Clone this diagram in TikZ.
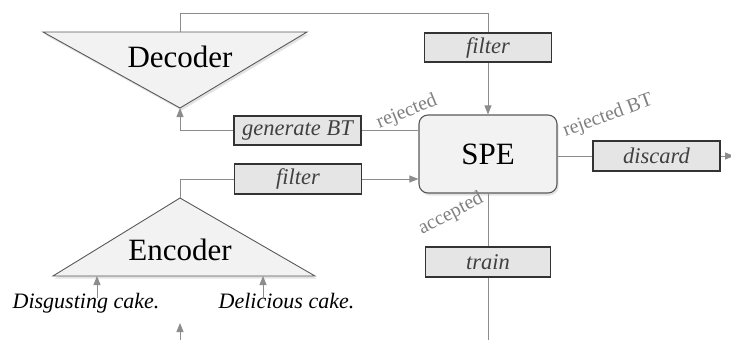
\documentclass[tikz,border=0pt]{standalone}
\usepackage{fontspec}
\setmainfont{Liberation Serif}
\usetikzlibrary{arrows.meta,shadows}
\begin{document}
\begin{tikzpicture}[x=1pt,y=-1pt,
  conn/.style={draw=black!45, line width=0.9pt},
  arr/.style={conn, -{Triangle[width=7pt,length=9pt]}, color=black!45},
  opbox/.style={draw=black!80, fill=black!10, line width=1.1pt, minimum width=127pt, minimum height=29pt, inner sep=0pt, font=\fontsize{22.5}{24}\selectfont\itshape, text=black!75},
  lbl/.style={text=black!50, font=\fontsize{20}{22}\selectfont, inner sep=0pt},
  softshadow/.style={drop shadow={opacity=0.22, shadow xshift=1.5pt, shadow yshift=-2.5pt}},
  tri/.style={draw=black!65, fill=black!5, line width=0.9pt, softshadow},
  big/.style={font=\fontsize{31}{33}\selectfont, anchor=base, inner sep=0pt},
  inp/.style={font=\fontsize{22}{24}\selectfont\itshape, anchor=base, inner sep=0pt}
]
\useasboundingbox (0,0) rectangle (731,340);

% Decoder
\path[tri] (43,32) -- (307,32) -- (180,108) -- cycle;
\coordinate (dectop) at (180,32);
\coordinate (decbot) at (180,108);
\node[big] (dec) at (180,67) {Decoder};

% Encoder
\path[tri] (180,198) -- (315,276) -- (53,276) -- cycle;
\coordinate (encapex) at (180,198);
\node[big] (enc) at (180,260) {Encoder};

% SPE
\node[draw=black!65, fill=black!5, line width=1.1pt, rounded corners=9pt, minimum width=138pt, minimum height=78pt, softshadow, font=\fontsize{31}{33}\selectfont] (spe) at (488,154) {SPE};

% boxes
\node[opbox] (filterA) at (488,47.5) {filter};
\node[opbox] (genbt) at (297.5,130.5) {generate BT};
\node[opbox, minimum height=30pt] (filterB) at (298,179) {filter};
\node[opbox, minimum height=30pt] (discard) at (656.5,156) {discard};
\node[opbox, minimum width=125pt, minimum height=30pt] (train) at (488,262) {train};

% inputs
\node[inp] (dis) at (86,308) {Disgusting cake.};
\node[inp] (del) at (286.5,308) {Delicious cake.};
\coordinate (in1) at (97,298);
\coordinate (in2) at (263,298);
\coordinate (in3) at (180,340);
\coordinate (outR) at (734,156);
\coordinate (outB) at (488,340);

% connectors
\draw[conn] (dectop) -- (180,13) -| (filterA.north);
\draw[arr] (filterA.south) -- (filterA.south |- spe.north);
\draw[conn] (genbt.east) -- (genbt.east -| spe.west);
\draw[arr] (genbt.west) -| (decbot);
\draw[conn] (encapex) |- (filterB.west);
\draw[arr] (filterB.east) -- (filterB.east -| spe.west);
\draw[conn] (spe.east |- discard.west) -- (discard.west);
\draw[arr] (discard.east) -- (outR);
\draw[conn] (spe.south) -- (spe.south |- train.north);
\draw[conn] (train.south) -- (outB);
\draw[arr] (in1) -- (97,276);
\draw[arr] (in2) -- (263,276);
\draw[arr] (in3) -- (180,323);

% labels
\node[lbl, rotate=22] (rej) at (407,112) {rejected};
\node[lbl, rotate=20] (rejbt) at (608,116) {rejected BT};
\node[lbl, rotate=27] (acc) at (451,214) {accepted};
\end{tikzpicture}
\end{document}
